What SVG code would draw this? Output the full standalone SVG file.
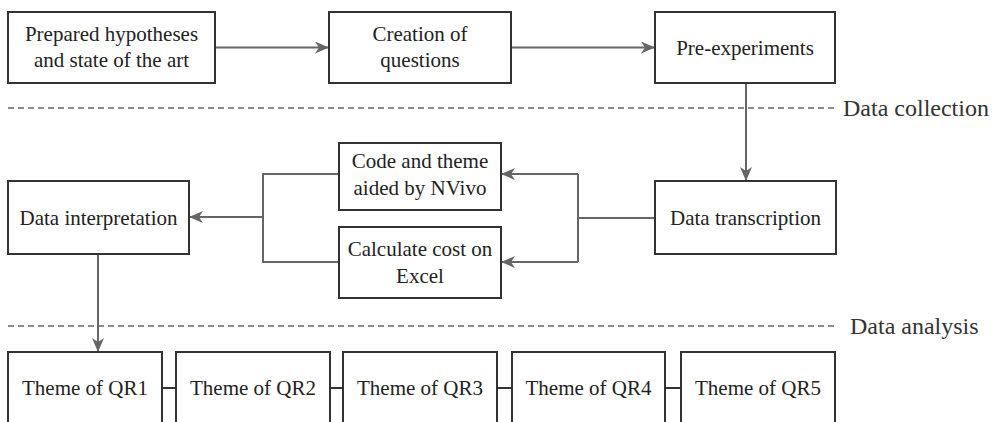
<svg xmlns="http://www.w3.org/2000/svg" width="996" height="422" viewBox="0 0 996 422">
<style>
.box{fill:#fff;stroke:#333;stroke-width:2}
.t{font-family:"Liberation Serif","Times New Roman",serif;font-size:21px;fill:#222;text-anchor:middle}
.sec{font-family:"Liberation Serif","Times New Roman",serif;font-size:24px;fill:#333}
.c{fill:none;stroke:#666;stroke-width:2}
.k{fill:none;stroke:#333;stroke-width:2}
.d{fill:none;stroke:#666;stroke-width:1.5;stroke-dasharray:6 4}
</style>
<defs>
<marker id="ah" viewBox="0 0 14 12" refX="14" refY="6" markerWidth="14" markerHeight="12" markerUnits="userSpaceOnUse" orient="auto">
<path d="M0,0 L14,6 L0,12 L4,6 z" fill="#666"/>
</marker>
</defs>
<g id="sections">
<line class="d" x1="8" y1="108" x2="834" y2="108"/>
<text class="sec" x="843" y="116">Data collection</text>
<line class="d" x1="8" y1="326" x2="834" y2="326"/>
<text class="sec" x="850" y="334">Data analysis</text>
</g>
<g id="connectors">
<line class="c" x1="215" y1="47.5" x2="329" y2="47.5" marker-end="url(#ah)"/>
<line class="c" x1="511" y1="47.5" x2="655" y2="47.5" marker-end="url(#ah)"/>
<line class="c" x1="746" y1="83" x2="746" y2="181" marker-end="url(#ah)"/>
<polyline class="c" points="655,218 578,218"/>
<polyline class="c" points="578,174 578,262"/>
<line class="c" x1="578" y1="174" x2="501" y2="174" marker-end="url(#ah)"/>
<line class="c" x1="578" y1="262" x2="501" y2="262" marker-end="url(#ah)"/>
<polyline class="c" points="339,174 263,174 263,262 339,262"/>
<line class="c" x1="263" y1="217" x2="189" y2="217" marker-end="url(#ah)"/>
<line class="c" x1="98" y1="254" x2="98" y2="352" marker-end="url(#ah)"/>
<line class="k" x1="162" y1="388" x2="176" y2="388"/>
<line class="k" x1="330" y1="388" x2="343" y2="388"/>
<line class="k" x1="497" y1="388" x2="512" y2="388"/>
<line class="k" x1="665" y1="388" x2="681" y2="388"/>
</g>
<g id="n1"><rect class="box" x="8" y="12" width="207" height="71"/>
<text class="t" x="111.5" y="41">Prepared hypotheses</text>
<text class="t" x="111.5" y="67">and state of the art</text></g>
<g id="n2"><rect class="box" x="329" y="12" width="182" height="71"/>
<text class="t" x="420" y="41">Creation of</text>
<text class="t" x="420" y="67">questions</text></g>
<g id="n3"><rect class="box" x="655" y="12" width="180" height="71"/>
<text class="t" x="745" y="55">Pre-experiments</text></g>
<g id="n4"><rect class="box" x="655" y="181" width="181" height="73"/>
<text class="t" x="745.5" y="225">Data transcription</text></g>
<g id="n5"><rect class="box" x="339" y="143" width="162" height="67"/>
<text class="t" x="420" y="168">Code and theme</text>
<text class="t" x="420" y="195">aided by NVivo</text></g>
<g id="n6"><rect class="box" x="339" y="227" width="162" height="71"/>
<text class="t" x="420" y="256">Calculate cost on</text>
<text class="t" x="420" y="283">Excel</text></g>
<g id="n7"><rect class="box" x="8" y="181" width="181" height="73"/>
<text class="t" x="98.5" y="225">Data interpretation</text></g>
<g id="q1"><rect class="box" x="8" y="352" width="154" height="80"/>
<text class="t" x="85" y="395">Theme of QR1</text></g>
<g id="q2"><rect class="box" x="176" y="352" width="154" height="80"/>
<text class="t" x="253" y="395">Theme of QR2</text></g>
<g id="q3"><rect class="box" x="343" y="352" width="154" height="80"/>
<text class="t" x="420" y="395">Theme of QR3</text></g>
<g id="q4"><rect class="box" x="512" y="352" width="153" height="80"/>
<text class="t" x="588.5" y="395">Theme of QR4</text></g>
<g id="q5"><rect class="box" x="681" y="352" width="154" height="80"/>
<text class="t" x="758" y="395">Theme of QR5</text></g>
</svg>
